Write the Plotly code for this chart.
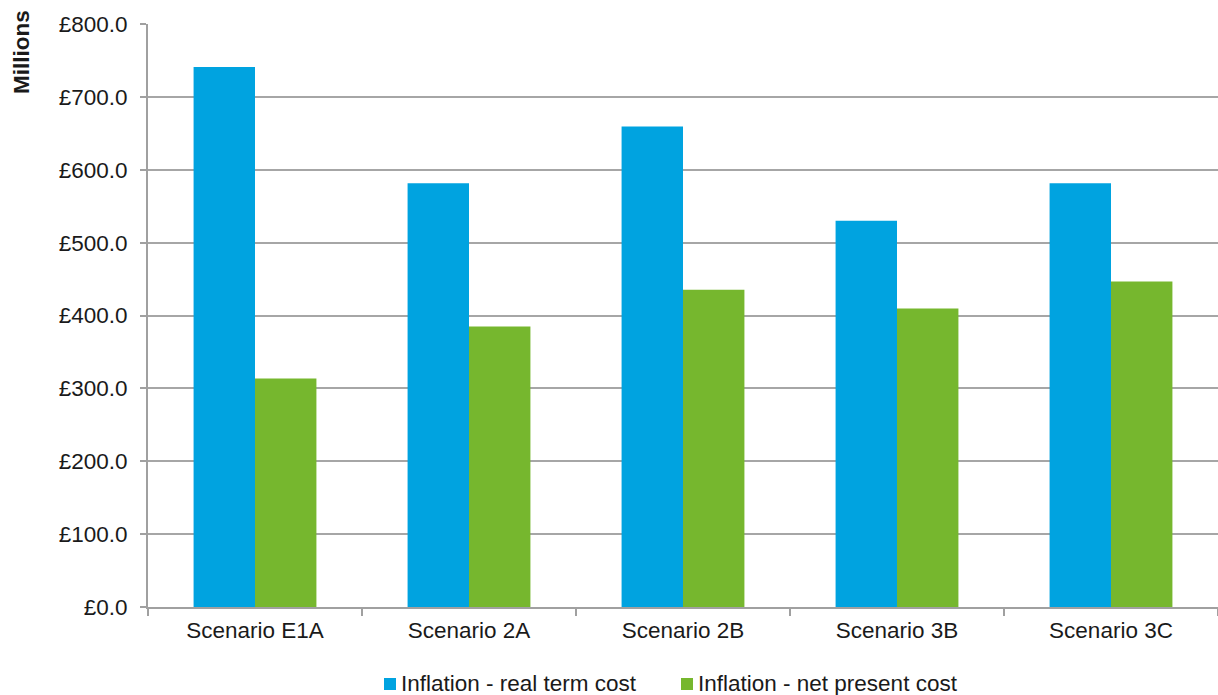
import plotly.graph_objects as go

# Cost comparison per scenario (£ millions)
scenarios = ["Scenario E1A", "Scenario 2A", "Scenario 2B", "Scenario 3B", "Scenario 3C"]
real_term_cost = [741.0, 581.5, 659.5, 530.0, 581.5]
net_present_cost = [313.5, 385.0, 435.5, 409.5, 446.5]
series_names = ["Inflation - real term cost", "Inflation - net present cost"]

BLUE = "#00A3E0"
GREEN = "#76B72E"
FONT = "Liberation Sans, Arial, sans-serif"
FS = 22.5

W, H = 1218, 695
ML, MR, MT, MB = 148, 0, 24, 88
PW, PH = W - ML - MR, H - MT - MB


def px_x(x):
    return (x - ML) / PW


def px_y(y):
    return (H - MB - y) / PH


fig = go.Figure()
fig.add_trace(go.Bar(x=scenarios, y=real_term_cost, name=series_names[0],
                     marker=dict(color=BLUE, line=dict(width=0)), showlegend=False))
fig.add_trace(go.Bar(x=scenarios, y=net_present_cost, name=series_names[1],
                     marker=dict(color=GREEN, line=dict(width=0)), showlegend=False))

fig.update_layout(
    width=W, height=H,
    margin=dict(l=ML, r=MR, t=MT, b=MB, autoexpand=False),
    paper_bgcolor="white", plot_bgcolor="white",
    font=dict(family=FONT, size=FS, color="#1a1a1a"),
    barmode="group", bargap=0.426, bargroupgap=0,
)
fig.update_xaxes(
    showline=True, linecolor="#a0a0a0", linewidth=2,
    ticks="outside", tickson="boundaries", ticklen=7, tickcolor="#a0a0a0", tickwidth=2,
    showgrid=False, ticklabelstandoff=2,
)
fig.update_yaxes(
    range=[0, 800], dtick=100, tickformat=".1f", tickprefix="£",
    showline=True, linecolor="#a0a0a0", linewidth=2,
    ticks="outside", ticklen=6, tickcolor="#a0a0a0", tickwidth=2,
    showgrid=True, gridcolor="#a6a6a6", gridwidth=2,
    zeroline=False, ticklabelstandoff=8,
)
fig.add_annotation(text="<b>Millions</b>", textangle=-90, xref="paper", yref="paper",
                   x=px_x(22), y=px_y(52), xanchor="center", yanchor="middle",
                   showarrow=False, font=dict(size=FS, family=FONT, color="#1a1a1a"))

# Legend: small colour square followed by the series name
legend_items = [(384, BLUE, series_names[0]), (681, GREEN, series_names[1])]
for x0, color, label in legend_items:
    fig.add_shape(type="rect", xref="paper", yref="paper",
                  x0=px_x(x0), x1=px_x(x0 + 12), y0=px_y(690), y1=px_y(678),
                  fillcolor=color, line=dict(width=0))
    fig.add_annotation(text=label, xref="paper", yref="paper",
                       x=px_x(x0 + 15), y=px_y(683), xanchor="left", yanchor="middle",
                       showarrow=False, font=dict(size=FS, family=FONT, color="#1a1a1a"))

fig.write_html("out.html")
